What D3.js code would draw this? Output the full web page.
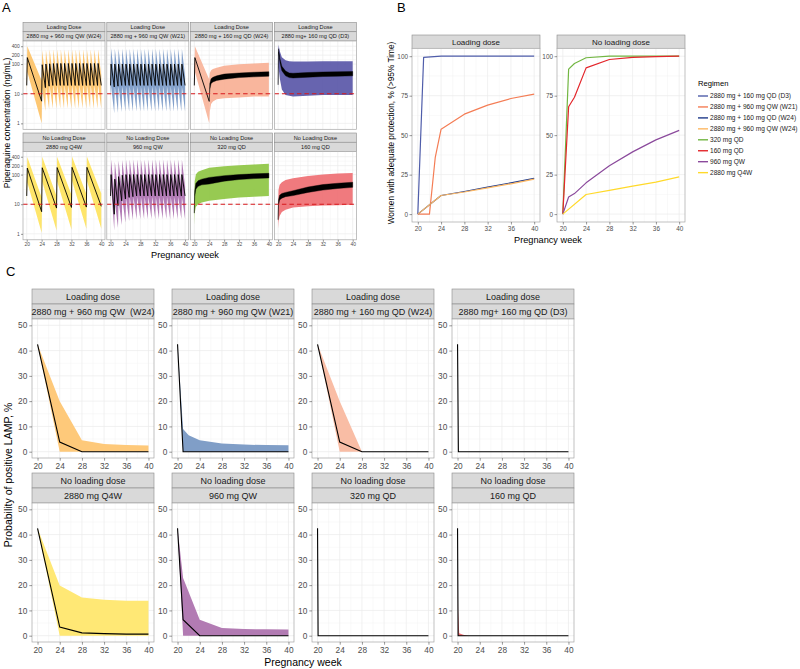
<!DOCTYPE html>
<html><head><meta charset="utf-8">
<script src="https://cdn.jsdelivr.net/npm/d3@7"></script>
<style>body{margin:0;background:#fff;}</style>
</head><body><script>
// ================= DATA =================
const weekTicks = [20, 24, 28, 32, 36, 40];
const weekMinor = [22, 26, 30, 34, 38];

// ---- Panel A : piperaquine concentration ----
const concTicks = [1, 10, 100, 200, 400];
const concMinor = [3.16, 31.6, 141, 283];
const targetConc = 10;
const aGroup = ["Loading Dose", "Loading Dose", "Loading Dose", "Loading Dose",
  "No Loading Dose", "No Loading Dose", "No Loading Dose", "No Loading Dose"];
const aRegimen = ["2880 mg + 960 mg QW (W24)", "2880 mg + 960 mg QW (W21)", "2880 mg + 160 mg QD (W24)",
  "2880 mg+ 160 mg QD (D3)", "2880 mg Q4W", "960 mg QW", "320 mg QD", "160 mg QD"];
const aFill = ["#FDBD5A", "#6E90C2", "#F8AE92", "#5653A6", "#FEE050", "#A564A8", "#8CC43F", "#EE6B70"];

// intermittent dosing: dose weeks; trough (value at dose time, last = end of phase); peak just after dose
const a1Dose = [20, 24, 25, 26, 27, 28, 29, 30, 31, 32, 33, 34, 35, 36, 37, 38, 39];
const a1End = 40;
const a1MedTrough = [19, 5.6, 16, 18, 19, 19, 19, 19, 19, 19, 19, 19, 19, 19, 19, 19, 19, 19];
const a1MedPeak = [165, 95, 100, 102, 104, 105, 105, 105, 105, 105, 105, 105, 105, 105, 105, 105, 105];
const a1LoTrough = [10, 1.0, 2.6, 3.0, 3.2, 3.2, 3.2, 3.2, 3.2, 3.2, 3.2, 3.2, 3.2, 3.2, 3.2, 3.2, 3.2, 3.2];
const a1LoPeak = [55, 16, 18, 19, 20, 20, 20, 20, 20, 20, 20, 20, 20, 20, 20, 20, 20];
const a1HiTrough = [40, 28, 36, 40, 42, 42, 42, 42, 42, 42, 42, 42, 42, 42, 42, 42, 42, 42];
const a1HiPeak = [400, 290, 300, 310, 310, 310, 310, 310, 310, 310, 310, 310, 310, 310, 310, 310, 310];

const a2Dose = [20, 21, 22, 23, 24, 25, 26, 27, 28, 29, 30, 31, 32, 33, 34, 35, 36, 37, 38, 39];
const a2End = 40;
const a2MedTrough = [19, 17, 18, 19, 19, 19, 19, 19, 19, 19, 19, 19, 19, 19, 19, 19, 19, 19, 19, 19, 19];
const a2MedPeak = [100, 100, 100, 100, 100, 100, 100, 100, 100, 100, 100, 100, 100, 100, 100, 100, 100, 100, 100, 100];
const a2LoTrough = [8, 2.2, 2.3, 2.4, 2.5, 2.5, 2.5, 2.5, 2.5, 2.5, 2.5, 2.5, 2.5, 2.5, 2.5, 2.5, 2.5, 2.5, 2.5, 2.5, 2.5];
const a2LoPeak = [18, 18, 18, 18, 18, 18, 18, 18, 18, 18, 18, 18, 18, 18, 18, 18, 18, 18, 18, 18];
const a2HiTrough = [40, 38, 40, 40, 40, 40, 40, 40, 40, 40, 40, 40, 40, 40, 40, 40, 40, 40, 40, 40, 40];
const a2HiPeak = [340, 330, 330, 330, 330, 330, 330, 330, 330, 330, 330, 330, 330, 330, 330, 330, 330, 330, 330, 330];

const a3Dose = [20];
const a3End = 24;
const a3MedTrough = [19, 5.5];
const a3MedPeak = [165];
const a3LoTrough = [10, 1.0];
const a3LoPeak = [55];
const a3HiTrough = [40, 30];
const a3HiPeak = [400];

const a5Dose = [20, 24, 28, 32, 36];
const a5End = 40;
const a5MedTrough = [19, 5.6, 7.4, 7.8, 8.0, 8.5];
const a5MedPeak = [165, 170, 172, 175, 175];
const a5LoTrough = [10, 1.1, 1.3, 1.4, 1.5, 1.5];
const a5LoPeak = [55, 58, 60, 62, 62];
const a5HiTrough = [40, 17, 19, 21, 22, 23];
const a5HiPeak = [390, 400, 400, 410, 410];

const a6Dose = [20, 21, 22, 23, 24, 25, 26, 27, 28, 29, 30, 31, 32, 33, 34, 35, 36, 37, 38, 39];
const a6End = 40;
const a6MedTrough = [19, 4.6, 9, 13, 15, 17, 18, 19, 19, 19, 19, 19, 19, 19, 19, 19, 19, 19, 19, 19, 19];
const a6MedPeak = [100, 70, 85, 95, 100, 100, 100, 100, 100, 100, 100, 100, 100, 100, 100, 100, 100, 100, 100, 100];
const a6LoTrough = [10, 1.3, 1.6, 2.0, 2.4, 2.7, 3.0, 3.1, 3.2, 3.2, 3.2, 3.2, 3.2, 3.2, 3.2, 3.2, 3.2, 3.2, 3.2, 3.2, 3.2];
const a6LoPeak = [40, 12, 14, 16, 17, 18, 18, 18, 18, 18, 18, 18, 18, 18, 18, 18, 18, 18, 18, 18];
const a6HiTrough = [40, 25, 30, 35, 38, 40, 40, 40, 40, 40, 40, 40, 40, 40, 40, 40, 40, 40, 40, 40, 40];
const a6HiPeak = [320, 270, 290, 310, 320, 320, 320, 320, 320, 320, 320, 320, 320, 320, 320, 320, 320, 320, 320, 320];

// daily dosing: envelope of median (thick black) and of prediction band
const a3Weeks = [24, 24.15, 24.5, 25, 26, 28, 32, 36, 40];
const a3MedLo = [5.5, 14, 22, 25, 28, 31, 35, 37, 39];
const a3MedHi = [5.5, 22, 32, 36, 40, 46, 50, 53, 55];
const a3Lo = [1.0, 2.5, 4.5, 5.5, 6.5, 7, 7.5, 8, 8];
const a3Hi = [30, 50, 62, 68, 75, 88, 98, 105, 110];

const a4Weeks = [20, 20.1, 20.5, 21, 22, 23, 24, 28, 32, 36, 40];
const a4MedLo = [20, 250, 110, 60, 40, 35, 34, 36, 38, 39, 40];
const a4MedHi = [22, 330, 150, 85, 58, 50, 49, 52, 54, 55, 56];
const a4Lo = [10, 80, 30, 14, 9, 8.5, 8, 8.5, 9, 9, 9];
const a4Hi = [45, 450, 260, 170, 135, 125, 122, 122, 124, 124, 124];

const a7Weeks = [20, 20.1, 20.4, 21, 22, 24, 28, 32, 36, 40];
const a7MedLo = [5, 18, 32, 40, 45, 48, 60, 68, 73, 77];
const a7MedHi = [6, 28, 50, 62, 70, 80, 92, 100, 106, 110];
const a7Lo = [2, 5, 8, 10, 11.5, 13, 15, 17, 18, 19];
const a7Hi = [15, 60, 100, 125, 140, 170, 190, 205, 220, 230];

const a8Weeks = [20, 20.1, 20.4, 21, 22, 24, 28, 32, 36, 40];
const a8MedLo = [3, 9, 14, 16, 18, 19.5, 25, 30, 34, 37];
const a8MedHi = [3.5, 14, 20, 23, 25, 28.5, 38, 46, 51, 55];
const a8Lo = [1.5, 2.5, 4, 5.5, 6.5, 7.8, 8.5, 9, 9.3, 9.6];
const a8Hi = [8, 30, 45, 55, 65, 75, 90, 100, 108, 113];

// ---- Panel B : adequate protection ----
const protTicks = [0, 25, 50, 75, 100];
const protMinor = [12.5, 37.5, 62.5, 87.5];
const protFacets = ["Loading dose", "No loading dose"];
const regimens = ["2880 mg + 160 mg QD (D3)", "2880 mg + 960 mg QW (W21)", "2880 mg + 160 mg QD (W24)",
  "2880 mg + 960 mg QW (W24)", "320 mg QD", "160 mg QD", "960 mg QW", "2880 mg Q4W"];
const regimenColors = ["#4F5DAA", "#F47D55", "#1F3A8A", "#FDB863", "#72B642", "#E3262B", "#8B4A9C", "#FFD92A"];
const regimenFacet = [0, 0, 0, 0, 1, 1, 1, 1];
const protWeeksD3 = [20, 21, 24, 28, 32, 36, 40];
const protD3 = [0, 99.3, 100, 100, 100, 100, 100];
const protWeeksW21 = [20, 21, 22, 23, 24, 28, 32, 36, 40];
const protW21 = [0, 0, 0, 36, 53.8, 63.3, 69, 73.2, 76];
const protWeeksMonthly = [20, 24, 28, 32, 36, 40];
const protW24QD = [0, 11.8, 14.3, 17.1, 19.8, 22.6];
const protW24QW = [0, 11.8, 14.0, 16.6, 19.2, 22.1];
const protWeeksDaily = [20, 21, 22, 24, 28, 32, 36, 40];
const prot320 = [0, 91.8, 95.4, 99, 100, 100, 100, 100];
const prot160 = [0, 68, 74, 92.6, 97.9, 99.2, 99.7, 100];
const prot960 = [0, 10.8, 13, 19.8, 30.6, 39.4, 47, 53];
const protQ4W = [0, 12.4, 15, 17.7, 20.3, 23.6];

// ---- Panel C : positive LAMP ----
const lampTicks = [0, 10, 20, 30, 40, 50];
const lampMinor = [5, 15, 25, 35, 45];
const cGroup = ["Loading dose", "Loading dose", "Loading dose", "Loading dose",
  "No loading dose", "No loading dose", "No loading dose", "No loading dose"];
const cRegimen = ["2880 mg + 960 mg QW  (W24)", "2880 mg + 960 mg QW (W21)", "2880 mg + 160 mg QD (W24)",
  "2880 mg+ 160 mg QD (D3)", "2880 mg Q4W", "960 mg QW", "320 mg QD", "160 mg QD"];
const cFill = ["#FEC97A", "#809EC7", "#F9BDA5", "#6C6AB5", "#FFE875", "#B27BB3", "#8CC43F", "#EE6B70"];
const c1Weeks = [20, 24, 28, 32, 36, 40];
const c1Med = [42.5, 3.8, 0, 0, 0, 0];
const c1Lo = [42.5, 0, 0, 0, 0, 0];
const c1Hi = [42.5, 20, 4.5, 3, 2.6, 2.4];
const c2Weeks = [20, 21, 22, 24, 28, 32, 36, 40];
const c2Med = [42.5, 0, 0, 0, 0, 0, 0, 0];
const c2Lo = [42.5, 0, 0, 0, 0, 0, 0, 0];
const c2Hi = [42.5, 9, 6.5, 4.5, 3.2, 2.8, 2.6, 2.5];
const c3Weeks = [20, 24, 28, 32, 36, 40];
const c3Med = [42.5, 3.8, 0, 0, 0, 0];
const c3Lo = [42.5, 0, 0, 0, 0, 0];
const c3Hi = [42.5, 20, 0, 0, 0, 0];
const c4Weeks = [20, 20.15, 24, 28, 32, 36, 40];
const c4Med = [42.5, 0, 0, 0, 0, 0, 0];
const c4Lo = [42.5, 0, 0, 0, 0, 0, 0];
const c4Hi = [42.5, 0, 0, 0, 0, 0, 0];
const c5Weeks = [20, 24, 28, 32, 36, 40];
const c5Med = [42.5, 3.4, 1.1, 0.8, 0.6, 0.6];
const c5Lo = [42.5, 0, 0, 0, 0, 0];
const c5Hi = [42.5, 19.9, 15.1, 14.2, 13.8, 13.8];
const c6Weeks = [20, 21, 24, 28, 32, 36, 40];
const c6Med = [42.5, 6.3, 0, 0, 0, 0, 0];
const c6Lo = [42.5, 0, 0, 0, 0, 0, 0];
const c6Hi = [42.5, 22.8, 6.3, 3.0, 2.6, 2.5, 2.4];
const c7Weeks = [20, 20.1, 24, 28, 32, 36, 40];
const c7Med = [42.5, 0, 0, 0, 0, 0, 0];
const c7Lo = [42.5, 0, 0, 0, 0, 0, 0];
const c7Hi = [42.5, 0, 0, 0, 0, 0, 0];
const c8Weeks = [20, 20.1, 20.3, 21, 22, 24, 28, 32, 36, 40];
const c8Med = [42.5, 0, 0, 0, 0, 0, 0, 0, 0, 0];
const c8Lo = [42.5, 0, 0, 0, 0, 0, 0, 0, 0, 0];
const c8Hi = [42.5, 10, 1, 0.4, 0, 0, 0, 0, 0, 0];

// ================= DRAWING =================
const FONT = "'Liberation Sans', Arial, Helvetica, sans-serif";
const svg = d3.select("body").append("svg").attr("width", 800).attr("height", 669)
  .style("font-family", FONT);
const defs = svg.append("defs");
let clipN = 0;

function styleAxis(sel, fs) {
  sel.attr("font-family", FONT).attr("font-size", fs);
  sel.select(".domain").remove();
  sel.selectAll(".tick line").attr("stroke", "#333").attr("stroke-width", 0.5);
  sel.selectAll(".tick text").attr("fill", "#4D4D4D");
}

function frame(o) {
  const g = svg.append("g");
  const pTop = o.top + o.stripH * o.strips.length;
  const pBot = pTop + o.plotH;
  const x = d3.scaleLinear().domain(o.xDomain).range([o.left, o.left + o.width]);
  const y = (o.log ? d3.scaleLog() : d3.scaleLinear()).domain(o.yDomain).range([pBot, pTop]);
  o.strips.forEach((s, i) => {
    const sy = o.top + i * o.stripH;
    g.append("rect").attr("x", o.left).attr("y", sy).attr("width", o.width).attr("height", o.stripH)
      .attr("fill", "#D9D9D9").attr("stroke", "#8A8A8A").attr("stroke-width", 0.6);
    g.append("text").attr("x", o.left + o.width / 2).attr("y", sy + o.stripH / 2).attr("dy", "0.36em")
      .attr("text-anchor", "middle").attr("font-size", o.stripFont).attr("fill", "#1A1A1A")
      .style("white-space", "pre").text(s);
  });
  g.append("rect").attr("x", o.left).attr("y", pTop).attr("width", o.width).attr("height", o.plotH).attr("fill", "#fff");
  const grid = g.append("g");
  o.xMinor.forEach(v => grid.append("line").attr("x1", x(v)).attr("x2", x(v)).attr("y1", pTop).attr("y2", pBot)
    .attr("stroke", "#F3F3F3").attr("stroke-width", 0.5));
  o.yMinor.forEach(v => grid.append("line").attr("x1", o.left).attr("x2", o.left + o.width).attr("y1", y(v)).attr("y2", y(v))
    .attr("stroke", "#F3F3F3").attr("stroke-width", 0.5));
  o.xTicks.forEach(v => grid.append("line").attr("x1", x(v)).attr("x2", x(v)).attr("y1", pTop).attr("y2", pBot)
    .attr("stroke", "#EBEBEB").attr("stroke-width", 0.7));
  o.yTicks.forEach(v => grid.append("line").attr("x1", o.left).attr("x2", o.left + o.width).attr("y1", y(v)).attr("y2", y(v))
    .attr("stroke", "#EBEBEB").attr("stroke-width", 0.7));
  const cid = "clip" + (clipN++);
  defs.append("clipPath").attr("id", cid).append("rect")
    .attr("x", o.left).attr("y", pTop).attr("width", o.width).attr("height", o.plotH);
  const data = g.append("g").attr("clip-path", `url(#${cid})`);
  g.append("rect").attr("x", o.left).attr("y", pTop).attr("width", o.width).attr("height", o.plotH)
    .attr("fill", "none").attr("stroke", "#A6A6A6").attr("stroke-width", 0.7);
  if (o.showX) {
    const ax = g.append("g").attr("transform", `translate(0,${pBot})`)
      .call(d3.axisBottom(x).tickValues(o.xTicks).tickSize(o.tickLen).tickPadding(o.tickPad).tickFormat(d => String(d)));
    styleAxis(ax, o.tickFont);
  }
  if (o.showY) {
    const ay = g.append("g").attr("transform", `translate(${o.left},0)`)
      .call(d3.axisLeft(y).tickValues(o.yTicks).tickSize(o.tickLen).tickPadding(o.tickPad).tickFormat(d => String(d)));
    styleAxis(ay, o.tickFont);
  }
  return { x, y, data, pTop, pBot };
}

function panelLabel(t, x, y) {
  svg.append("text").attr("x", x).attr("y", y).attr("font-size", 13).attr("fill", "#000").text(t);
}
function title(t, x, y, fs, rot) {
  const el = svg.append("text").attr("text-anchor", "middle").attr("font-size", fs).attr("fill", "#000").text(t);
  if (rot) el.attr("transform", `translate(${x},${y}) rotate(-90)`);
  else el.attr("x", x).attr("y", y);
}

// ---------- Panel A ----------
panelLabel("A", 2, 12);
const RISE = 0.15;
function sawPoints(dose, end, medT, medP, loT, loP, hiT, hiP) {
  const pts = [];
  dose.forEach((d, i) => {
    pts.push({ w: d, med: medT[i], lo: loT[i], hi: hiT[i] });
    pts.push({ w: d + RISE, med: medP[i], lo: loP[i], hi: hiP[i] });
  });
  const n = dose.length;
  pts.push({ w: end, med: medT[n], lo: loT[n], hi: hiT[n] });
  return pts;
}
function contPoints(weeks, mLo, mHi, lo, hi) {
  return weeks.map((w, i) => ({ w, mLo: mLo[i], mHi: mHi[i], lo: lo[i], hi: hi[i] }));
}
const aSaw = [
  sawPoints(a1Dose, a1End, a1MedTrough, a1MedPeak, a1LoTrough, a1LoPeak, a1HiTrough, a1HiPeak),
  sawPoints(a2Dose, a2End, a2MedTrough, a2MedPeak, a2LoTrough, a2LoPeak, a2HiTrough, a2HiPeak),
  sawPoints(a3Dose, a3End, a3MedTrough, a3MedPeak, a3LoTrough, a3LoPeak, a3HiTrough, a3HiPeak),
  null,
  sawPoints(a5Dose, a5End, a5MedTrough, a5MedPeak, a5LoTrough, a5LoPeak, a5HiTrough, a5HiPeak),
  sawPoints(a6Dose, a6End, a6MedTrough, a6MedPeak, a6LoTrough, a6LoPeak, a6HiTrough, a6HiPeak),
  null, null
];
const aCont = [null, null,
  contPoints(a3Weeks, a3MedLo, a3MedHi, a3Lo, a3Hi),
  contPoints(a4Weeks, a4MedLo, a4MedHi, a4Lo, a4Hi),
  null, null,
  contPoints(a7Weeks, a7MedLo, a7MedHi, a7Lo, a7Hi),
  contPoints(a8Weeks, a8MedLo, a8MedHi, a8Lo, a8Hi)];

const aLeft = [23, 106.8, 190.6, 274.4];
const aTop = [22.5, 133];
for (let i = 0; i < 8; i++) {
  const r = Math.floor(i / 4), c = i % 4;
  const f = frame({
    left: aLeft[c], top: aTop[r], width: 82, stripH: 9.25, plotH: 88.3,
    strips: [aGroup[i], aRegimen[i]], stripFont: 5.6,
    xDomain: [19, 41], yDomain: [0.63, 600], log: true,
    xTicks: weekTicks, xMinor: weekMinor, yTicks: concTicks, yMinor: concMinor,
    showX: r === 1, showY: c === 0, tickFont: 4.9, tickLen: 2, tickPad: 1.2
  });
  const col = aFill[i];
  if (aSaw[i]) {
    f.data.append("path").datum(aSaw[i]).attr("fill", col).attr("fill-opacity", 0.85)
      .attr("d", d3.area().x(d => f.x(d.w)).y0(d => f.y(d.lo)).y1(d => f.y(d.hi)));
  }
  if (aCont[i]) {
    f.data.append("path").datum(aCont[i]).attr("fill", col).attr("fill-opacity", 0.9)
      .attr("d", d3.area().x(d => f.x(d.w)).y0(d => f.y(d.lo)).y1(d => f.y(d.hi)));
  }
  if (aSaw[i]) {
    f.data.append("path").datum(aSaw[i]).attr("fill", "none").attr("stroke", "#000").attr("stroke-width", 0.9)
      .attr("stroke-linejoin", "round")
      .attr("d", d3.line().x(d => f.x(d.w)).y(d => f.y(d.med)));
  }
  if (aCont[i]) {
    f.data.append("path").datum(aCont[i]).attr("fill", "#000").attr("stroke", "#000").attr("stroke-width", 0.4)
      .attr("d", d3.area().x(d => f.x(d.w)).y0(d => f.y(d.mLo)).y1(d => f.y(d.mHi)));
  }
  f.data.append("line").attr("x1", aLeft[c]).attr("x2", aLeft[c] + 82)
    .attr("y1", f.y(targetConc)).attr("y2", f.y(targetConc))
    .attr("stroke", "#D7191C").attr("stroke-width", 1.1).attr("stroke-dasharray", "4.5,3");
}
title("Piperaquine concentration (ng/mL)", 10, 123, 8.5, true);
title("Pregnancy week", 185, 258, 9.2, false);

// ---------- Panel B ----------
panelLabel("B", 397, 12);
const protSeries = [
  { w: protWeeksD3, v: protD3 }, { w: protWeeksW21, v: protW21 },
  { w: protWeeksMonthly, v: protW24QD }, { w: protWeeksMonthly, v: protW24QW },
  { w: protWeeksDaily, v: prot320 }, { w: protWeeksDaily, v: prot160 },
  { w: protWeeksDaily, v: prot960 }, { w: protWeeksMonthly, v: protQ4W }
];
const bLeft = [412, 557];
const bFrames = bLeft.map((l, k) => frame({
  left: l, top: 35, width: 128, stripH: 13.3, plotH: 173.7,
  strips: [protFacets[k]], stripFont: 8,
  xDomain: [19, 41], yDomain: [-5, 105], log: false,
  xTicks: weekTicks, xMinor: weekMinor, yTicks: protTicks, yMinor: protMinor,
  showX: true, showY: true, tickFont: 6.4, tickLen: 2.5, tickPad: 1.5
}));
protSeries.forEach((s, i) => {
  const f = bFrames[regimenFacet[i]];
  const pts = s.w.map((w, j) => [w, s.v[j]]);
  f.data.append("path").datum(pts).attr("fill", "none").attr("stroke", regimenColors[i]).attr("stroke-width", 1.2)
    .attr("stroke-linejoin", "round")
    .attr("d", d3.line().x(d => f.x(d[0])).y(d => f.y(d[1])));
});
title("Women with adequate protection, % (>95% Time)", 394, 133, 8.3, true);
title("Pregnancy week", 548, 243, 9.2, false);
// legend
svg.append("text").attr("x", 698).attr("y", 86).attr("font-size", 7.6).attr("fill", "#000").text("Regimen");
regimens.forEach((r, i) => {
  const yy = 96 + i * 10.95;
  svg.append("line").attr("x1", 698).attr("x2", 708).attr("y1", yy).attr("y2", yy)
    .attr("stroke", regimenColors[i]).attr("stroke-width", 1.4);
  svg.append("text").attr("x", 710).attr("y", yy).attr("dy", "0.35em").attr("font-size", 6.55).attr("fill", "#1A1A1A").text(r);
});

// ---------- Panel C ----------
panelLabel("C", 6, 276);
const cSeries = [
  [c1Weeks, c1Med, c1Lo, c1Hi], [c2Weeks, c2Med, c2Lo, c2Hi], [c3Weeks, c3Med, c3Lo, c3Hi], [c4Weeks, c4Med, c4Lo, c4Hi],
  [c5Weeks, c5Med, c5Lo, c5Hi], [c6Weeks, c6Med, c6Lo, c6Hi], [c7Weeks, c7Med, c7Lo, c7Hi], [c8Weeks, c8Med, c8Lo, c8Hi]
];
const cLeft = [32, 172, 312, 452];
const cTop = [289, 473];
for (let i = 0; i < 8; i++) {
  const r = Math.floor(i / 4), c = i % 4;
  const f = frame({
    left: cLeft[c], top: cTop[r], width: 122, stripH: 15, plotH: 139,
    strips: [cGroup[i], cRegimen[i]], stripFont: 9,
    xDomain: [19, 41], yDomain: [-2.5, 52.5], log: false,
    xTicks: weekTicks, xMinor: weekMinor, yTicks: lampTicks, yMinor: lampMinor,
    showX: true, showY: true, tickFont: 8.3, tickLen: 2.7, tickPad: 2
  });
  const [wk, med, lo, hi] = cSeries[i];
  const pts = wk.map((w, j) => ({ w, med: med[j], lo: lo[j], hi: hi[j] }));
  f.data.append("path").datum(pts).attr("fill", cFill[i])
    .attr("d", d3.area().x(d => f.x(d.w)).y0(d => f.y(d.lo)).y1(d => f.y(d.hi)));
  f.data.append("path").datum(pts).attr("fill", "none").attr("stroke", "#000").attr("stroke-width", 1.1)
    .attr("d", d3.line().x(d => f.x(d.w)).y(d => f.y(d.med)));
}
title("Probability of positive LAMP, %", 12, 475, 10.5, true);
title("Pregnancy week", 303, 666, 10.5, false);
</script></body></html>
